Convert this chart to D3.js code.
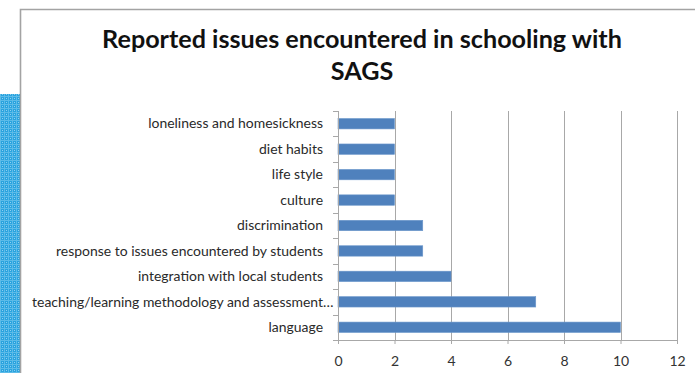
<!DOCTYPE html>
<html><head><meta charset="utf-8">
<script src="https://cdn.jsdelivr.net/npm/d3@7"></script>
<style>html,body{margin:0;padding:0;background:#fff;overflow:hidden}</style>
</head><body>
<svg id="c" width="695" height="373"></svg>
<script>
const categories = [
  "loneliness and homesickness",
  "diet habits",
  "life style",
  "culture",
  "discrimination",
  "response to issues encountered by students",
  "integration with local students",
  "teaching/learning methodology and assessment…",
  "language"
];
const values = [2, 2, 2, 2, 3, 3, 4, 7, 10];
const xTicks = [0, 2, 4, 6, 8, 10, 12];
const titleLines = ["Reported issues encountered in schooling with", "SAGS"];

const svg = d3.select("#c");
const W = 695, H = 373;
const font = "Lato, 'Open Sans', sans-serif";

// blue patterned strip
const defs = svg.append("defs");
const pat = defs.append("pattern").attr("id","dots").attr("width",4).attr("height",4).attr("patternUnits","userSpaceOnUse");
pat.append("rect").attr("width",4).attr("height",4).attr("fill","#2aa3df");
pat.append("rect").attr("x",0).attr("y",0).attr("width",4).attr("height",1).attr("fill","#5cbbe8");
pat.append("rect").attr("x",0).attr("y",0).attr("width",1).attr("height",4).attr("fill","#5cbbe8");
pat.append("rect").attr("x",2).attr("y",2).attr("width",1).attr("height",1).attr("fill","#8fd0ef");
svg.append("rect").attr("x",0).attr("y",94).attr("width",20).attr("height",H-94).attr("fill","url(#dots)");

// chart frame
svg.append("path").attr("d",`M20.5,${H} L20.5,9.5 L${W},9.5`).attr("fill","none").attr("stroke","#a3a3a3").attr("stroke-width",1.6);

// title
const t = svg.append("text").attr("x",362).attr("font-family",font).attr("font-weight","bold")
  .attr("font-size",26).attr("fill","#111").attr("text-anchor","middle");
titleLines.forEach((l,i)=>{
  t.append("tspan").attr("x",362).attr("y",48+i*32).text(l);
});
const tsp = t.select("tspan").node();
const tw = tsp.getComputedTextLength();
t.attr("font-size", 26*520/tw);

const m = {left:338, right:677, top:111, bottom:340};
const x = d3.scaleLinear().domain([0,12]).range([m.left,m.right]);
const yb = d3.scaleBand().domain(categories).range([m.top,m.bottom]);

// gridlines
svg.append("g").selectAll("line").data(xTicks.slice(1)).join("line")
  .attr("x1",d=>Math.round(x(d))+0.5).attr("x2",d=>Math.round(x(d))+0.5)
  .attr("y1",m.top).attr("y2",m.bottom).attr("stroke","#a8a8a8").attr("stroke-width",1);

// bars
svg.append("g").selectAll("rect").data(values).join("rect")
  .attr("x",x(0)).attr("y",(d,i)=>yb(categories[i])+yb.bandwidth()/2-5.2)
  .attr("width",d=>x(d)-x(0)).attr("height",10.4)
  .attr("fill","#4f81bd").attr("stroke","#6d98cc").attr("stroke-width",0.6);

// x axis
const xa = svg.append("g").attr("transform",`translate(0,${m.bottom})`)
  .call(d3.axisBottom(x).tickValues(xTicks).tickSize(4).tickPadding(12));
xa.select(".domain").attr("stroke","#a8a8a8");
xa.selectAll(".tick line").attr("stroke","#a8a8a8");
xa.selectAll("text").attr("font-family",font).attr("font-size",14).attr("fill","#333");

// y axis line and ticks at band boundaries
svg.append("line").attr("x1",m.left+0.5).attr("x2",m.left+0.5).attr("y1",m.top).attr("y2",m.bottom).attr("stroke","#a8a8a8");
const bounds = categories.map(c=>yb(c)).concat([m.bottom]);
svg.append("g").selectAll("line").data(bounds).join("line")
  .attr("x1",m.left-5).attr("x2",m.left).attr("y1",d=>Math.round(d)+0.5).attr("y2",d=>Math.round(d)+0.5)
  .attr("stroke","#a8a8a8");

// category labels
const lfs = 13.6;
const lg = svg.append("g").attr("font-family",font).attr("font-size",lfs).attr("fill","#2a2a2a").attr("text-anchor","end");
const labels = lg.selectAll("text").data(categories).join("text")
  .attr("x",323).attr("y",d=>yb(d)+yb.bandwidth()/2).attr("dy","0.35em").text(d=>d);
const ref = labels.filter((d,i)=>i===5).node().getComputedTextLength();
const k = 267/ref;
labels.each(function(d){
  const n = this.getComputedTextLength();
  d3.select(this).attr("textLength", n*k).attr("lengthAdjust","spacingAndGlyphs");
  if (d.endsWith("…")) {
    const tmp = lg.append("text").text("…");
    const ew = tmp.node().getComputedTextLength()*k; tmp.remove();
    d3.select(this).attr("dx", ew);
  }
});
</script>
</body></html>
